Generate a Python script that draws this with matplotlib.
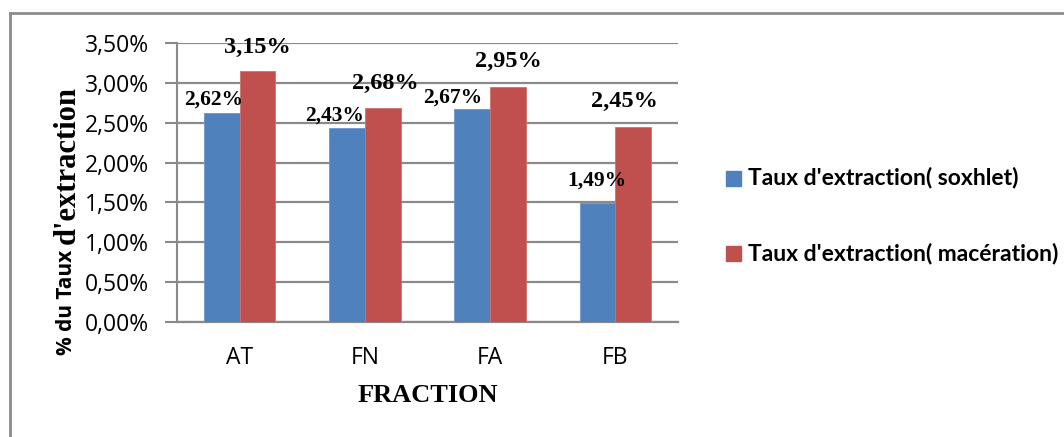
import matplotlib
matplotlib.use("Agg")
import matplotlib.pyplot as plt
from matplotlib.patches import Rectangle
from matplotlib.lines import Line2D

categories = ["AT", "FN", "FA", "FB"]
soxhlet = [2.62, 2.43, 2.67, 1.49]
maceration = [3.15, 2.68, 2.95, 2.45]
series_names = ["Taux d'extraction( soxhlet)", "Taux d'extraction( macération)"]
yticks = [0.0, 0.5, 1.0, 1.5, 2.0, 2.5, 3.0, 3.5]

BLUE = "#4F81BD"
RED = "#C0504D"
GRID = "#8A8A8A"

W, H, DPI = 1064, 437, 100
fig = plt.figure(figsize=(W / DPI, H / DPI), dpi=DPI)

# plot area in pixel coordinates
x0, x1 = 177, 678
y0, y1 = 322, 43
ax = fig.add_axes([x0 / W, 1 - y0 / H, (x1 - x0) / W, (y0 - y1) / H])

n = len(categories)
bw = 0.285
xs = list(range(n))
ax.bar([x - bw / 2 for x in xs], soxhlet, width=bw, color=BLUE, zorder=3,
       edgecolor="#6d95c9", linewidth=0.6)
ax.bar([x + bw / 2 for x in xs], maceration, width=bw, color=RED, zorder=3,
       edgecolor="#d06f6c", linewidth=0.6)

ax.set_xlim(-0.5, n - 0.5)
ax.set_ylim(0, 3.5)
ax.set_yticks(yticks)
ax.set_yticklabels([f"{v:.2f}%".replace(".", ",") for v in yticks],
                   fontsize=16.5, family="Open Sans")
ax.set_xticks(xs)
ax.set_xticklabels(categories, fontsize=16.5, family="Open Sans")
ax.tick_params(axis="x", length=0, pad=17)
ax.tick_params(axis="y", length=9, width=1.5, color=GRID, pad=11)
ax.grid(axis="y", color=GRID, linewidth=1.6, zorder=0)
for s in ["top", "right"]:
    ax.spines[s].set_visible(False)
ax.spines["left"].set_color(GRID)
ax.spines["left"].set_linewidth(1.5)
ax.spines["bottom"].set_color(GRID)
ax.spines["bottom"].set_linewidth(1.6)

# value labels (pixel offsets from bar top centre)
blue_off = [(-8, 14), (-12, 13), (-20, 12), (-1, 23)]
red_off = [(0, 23), (3, 25), (0, 25), (-9, 25)]
for i, v in enumerate(soxhlet):
    ax.annotate(f"{v:.2f}%".replace(".", ","), (i - bw / 2, v),
                xytext=(blue_off[i][0] * 0.72, blue_off[i][1] * 0.72),
                textcoords="offset points", ha="center", va="center",
                fontsize=15.5, fontweight="bold", family="Liberation Serif", zorder=5)
for i, v in enumerate(maceration):
    ax.annotate(f"{v:.2f}%".replace(".", ","), (i + bw / 2, v),
                xytext=(red_off[i][0] * 0.72, red_off[i][1] * 0.72),
                textcoords="offset points", ha="center", va="center",
                fontsize=17.5, fontweight="bold", family="Liberation Serif", zorder=5)

# axis titles
fig.text(428 / W, 1 - 395 / H, "FRACTION", ha="center", va="center",
         fontsize=19, fontweight="bold", family="Liberation Serif")
fig.text(67 / W, 1 - 302 / H, "% du Taux", rotation=90, ha="center", va="center",
         fontsize=15, fontweight="bold", family="Open Sans")
fig.text(67 / W, 1 - 165 / H, "d'extraction", rotation=90, ha="center", va="center",
         fontsize=22, fontweight="bold", family="Liberation Serif")

# legend
for name, col, yc in [(series_names[0], BLUE, 178), (series_names[1], RED, 253)]:
    fig.patches.append(Rectangle((726 / W, 1 - (yc + 7.5) / H), 15 / W, 15 / H,
                                 transform=fig.transFigure, color=col))
    fig.text(748 / W, 1 - yc / H, name, ha="left", va="center",
             fontsize=16.5, fontweight="bold", family="Lato")

# chart border
fig.lines.append(Line2D([10 / W, 10 / W], [0, 1 - 13 / H], transform=fig.transFigure,
                        color="#8C8C8C", linewidth=2))
fig.lines.append(Line2D([10 / W, 1], [1 - 13 / H, 1 - 13 / H], transform=fig.transFigure,
                        color="#8C8C8C", linewidth=2))

fig.savefig("out.png", dpi=DPI)
